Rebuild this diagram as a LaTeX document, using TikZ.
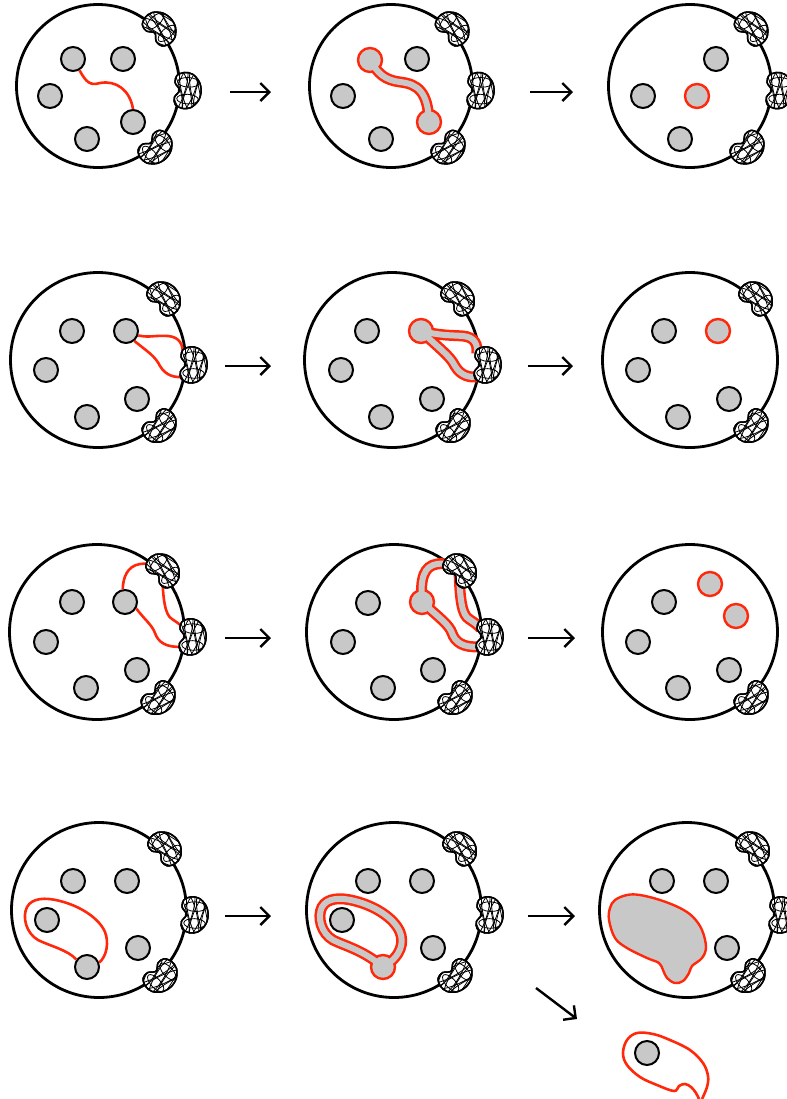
\documentclass[tikz,border=0pt]{standalone}
\usepackage{tikz}
\usetikzlibrary{arrows.meta}
\definecolor{discgray}{RGB}{200,200,200}
\definecolor{strandred}{RGB}{255,40,10}

\begin{document}
\begin{tikzpicture}[x=0.5pt,y=-0.5pt]
    \tikzstyle{board}=[draw,circle,line width=1.4pt,minimum size=87.5pt,inner sep=0pt]
    \tikzstyle{disc}=[draw,circle,fill=discgray,line width=1pt,minimum size=12pt,inner sep=0pt]
    \tikzstyle{hot}=[disc,draw=strandred,line width=1.2pt]
    \tikzstyle{strand}=[draw=strandred,line width=1.3pt]
    \tikzstyle{bandout}=[draw=strandred,line width=5.5pt]
    \tikzstyle{bandin}=[draw=discgray,line width=3pt]
    \tikzstyle{blob}=[fill=discgray,draw=strandred,line width=1.2pt]
    \tikzstyle{trans}=[draw,line width=1.2pt,-{Straight Barb[length=4.5pt,width=9pt]}]
    \tikzstyle{rim}=[draw,line width=0.75pt]
    \tikzstyle{knot}=[draw,line width=0.4pt]
    \tikzset{tangle/.pic={
        \begin{scope}[scale=1.2]
        \path[rim,fill=white] plot[smooth cycle,tension=0.55] coordinates {(-1,0) (-5,-6) (-4,-12) (2,-15) (9,-14) (15,-8)
            (17,0) (15,8) (9,14) (2,15) (-4,12) (-5,6)};
        \begin{scope}
            \clip plot[smooth cycle,tension=0.55] coordinates {(-1,0) (-5,-6) (-4,-12) (2,-15) (9,-14) (15,-8)
                (17,0) (15,8) (9,14) (2,15) (-4,12) (-5,6)};
            \foreach \k/\r in {-4/18,0/-14,4/16,8/-18,12/14,16/-12}
                \draw[knot,rotate around={\r:(\k,0)}] (\k,0) ellipse (3.5 and 17);
            \draw[knot] (6,-7) ellipse (9 and 4) (6,7) ellipse (9 and 4);
        \end{scope}
        \path[rim] plot[smooth cycle,tension=0.55] coordinates {(-1,0) (-5,-6) (-4,-12) (2,-15) (9,-14) (15,-8)
            (17,0) (15,8) (9,14) (2,15) (-4,12) (-5,6)};
        \end{scope}
    }}
    \useasboundingbox (0,0) rectangle (787,1099);

    % boards
    \node[board,minimum size=81.5pt] (c11) at (98,86) {};
    \node[board,minimum size=81.5pt] (c12) at (391,86) {};
    \node[board,minimum size=81.5pt] (c13) at (690,86) {};
    \node[board] (c21) at (98,360) {};
    \node[board] (c22) at (392,360) {};
    \node[board] (c23) at (690,360) {};
    \node[board] (c31) at (97,632) {};
    \node[board] (c32) at (394,632) {};
    \node[board] (c33) at (690,632) {};
    \node[board] (c41) at (99,910) {};
    \node[board] (c42) at (394,910) {};
    \node[board] (c43) at (687,910) {};

    % red strands, outer bands
    \draw[bandout] (370,60) .. controls (378,74) and (385,80) .. (400,82) .. controls (418,84) and (428,92) .. (429,122);
    \draw[bandout] (421,331) .. controls (443,336) and (450,335) .. (463,336) .. controls (475,337) and (478,345) .. ([shift={(-4,-11)}]c22.-3);
    \draw[bandout] (421,331) .. controls (441,350) and (450,356) .. (455,366) .. controls (461,376) and (470,378) .. ([shift={(-2,12)}]c22.-3);
    \draw[bandout] (422,602) .. controls (420,578) and (424,566) .. (437,564) .. controls (443,563) and (448,563) .. (c32.43);
    \draw[bandout] (c32.43) .. controls (460,600) and (462,615) .. (469,619) .. controls (475,623) and (479,626) .. ([shift={(-2,-8)}]c32.-3);
    \draw[bandout] (422,602) .. controls (442,620) and (449,625) .. (452,633) .. controls (455,642) and (463,648) .. ([shift={(-3,10)}]c32.-3);
    \draw[bandout] (383,967) .. controls (402,956) and (404,942) .. (400,932) .. controls (394,918) and (375,906) .. (355,901)
        .. controls (340,897) and (327,898) .. (322,907) .. controls (317,917) and (321,933) .. (333,940) .. controls (345,946) and (363,950) .. (383,967);

    % row 1
    \node[disc] (d11a) at (73,59) {};
    \node[disc] (d11b) at (123,59) {};
    \node[disc] (d11c) at (50,96) {};
    \node[disc] (d11d) at (133,122) {};
    \node[disc] (d11e) at (87,139) {};
    \draw[strand] (d11a.-60) .. controls (86,82) and (90,86) .. (100,83) .. controls (116,80) and (130,90) .. (d11d.90);
    \node[hot] (d12a) at (370,60) {};
    \node[disc] (d12b) at (417,59) {};
    \node[disc] (d12c) at (343,96) {};
    \node[hot] (d12d) at (429,122) {};
    \node[disc] (d12e) at (381,139) {};
    \draw[bandin] (d12a.center) .. controls (378,74) and (385,80) .. (400,82) .. controls (418,84) and (428,92) .. (d12d.center);
    \node[disc] (d13b) at (716,59) {};
    \node[disc] (d13c) at (643,96) {};
    \node[hot] (d13f) at (697,96) {};
    \node[disc] (d13e) at (680,139) {};

    % row 2
    \node[disc] (d21a) at (72,331) {};
    \node[disc] (d21b) at (126,331) {};
    \node[disc] (d21c) at (46,370) {};
    \node[disc] (d21d) at (137,399) {};
    \node[disc] (d21e) at (87,417) {};
    \draw[strand] (d21b.-20) .. controls (150,338) and (155,335) .. (168,336) .. controls (180,337) and (183,345) .. ([shift={(-4,-11)}]c21.-3);
    \draw[strand] (d21b.-50) .. controls (148,352) and (155,356) .. (160,366) .. controls (166,376) and (175,378) .. ([shift={(-2,12)}]c21.-3);
    \node[disc] (d22a) at (367,331) {};
    \node[hot] (d22b) at (421,331) {};
    \node[disc] (d22c) at (341,370) {};
    \node[disc] (d22d) at (432,399) {};
    \node[disc] (d22e) at (381,417) {};
    \draw[bandin] (d22b.center) .. controls (443,336) and (450,335) .. (463,336) .. controls (475,337) and (478,345) .. ([shift={(-4,-11)}]c22.-3);
    \draw[bandin] (d22b.center) .. controls (441,350) and (450,356) .. (455,366) .. controls (461,376) and (470,378) .. ([shift={(-2,12)}]c22.-3);
    \node[disc] (d23a) at (664,331) {};
    \node[hot] (d23b) at (718,331) {};
    \node[disc] (d23c) at (638,370) {};
    \node[disc] (d23d) at (729,399) {};
    \node[disc] (d23e) at (678,417) {};

    % row 3
    \node[disc] (d31a) at (72,602) {};
    \node[disc] (d31b) at (125,602) {};
    \node[disc] (d31c) at (46,642) {};
    \node[disc] (d31d) at (137,670) {};
    \node[disc] (d31e) at (86,688) {};
    \draw[strand] (d31b.100) .. controls (123,578) and (127,566) .. (140,564) .. controls (146,563) and (151,563) .. (c31.43);
    \draw[strand] (c31.43) .. controls (163,600) and (165,615) .. (172,619) .. controls (178,623) and (182,626) .. ([shift={(-2,-8)}]c31.-3);
    \draw[strand] (d31b.-30) .. controls (145,620) and (152,625) .. (155,633) .. controls (158,642) and (166,648) .. ([shift={(-3,10)}]c31.-3);
    \node[disc] (d32a) at (368,603) {};
    \node[hot] (d32b) at (422,602) {};
    \node[disc] (d32c) at (343,642) {};
    \node[disc] (d32d) at (433,670) {};
    \node[disc] (d32e) at (383,688) {};
    \draw[bandin] (d32b.center) .. controls (420,578) and (424,566) .. (437,564) .. controls (443,563) and (448,563) .. (c32.43);
    \draw[bandin] (c32.43) .. controls (460,600) and (462,615) .. (469,619) .. controls (475,623) and (479,626) .. ([shift={(-2,-8)}]c32.-3);
    \draw[bandin] (d32b.center) .. controls (442,620) and (449,625) .. (452,633) .. controls (455,642) and (463,648) .. ([shift={(-3,10)}]c32.-3);
    \node[disc] (d33a) at (664,602) {};
    \node[disc] (d33c) at (638,642) {};
    \node[disc] (d33d) at (729,670) {};
    \node[disc] (d33e) at (678,688) {};
    \node[hot] (d33f) at (710,584) {};
    \node[hot] (d33g) at (736,616) {};

    % row 4
    \node[disc] (d41a) at (73,881) {};
    \node[disc] (d41b) at (127,881) {};
    \node[disc] (d41c) at (47,920) {};
    \node[disc] (d41d) at (138,948) {};
    \node[disc] (d41e) at (87,967) {};
    \draw[strand] (d41e.20) .. controls (107,956) and (109,942) .. (105,932) .. controls (99,918) and (80,906) .. (60,901)
        .. controls (45,897) and (32,898) .. (27,907) .. controls (22,917) and (26,933) .. (38,940) .. controls (50,946) and (68,950) .. (d41e.145);
    \node[disc] (d42a) at (368,881) {};
    \node[disc] (d42b) at (422,881) {};
    \node[disc] (d42c) at (342,920) {};
    \node[disc] (d42d) at (433,948) {};
    \node[hot] (d42e) at (383,967) {};
    \draw[bandin] (d42e.center) .. controls (402,956) and (404,942) .. (400,932) .. controls (394,918) and (375,906) .. (355,901)
        .. controls (340,897) and (327,898) .. (322,907) .. controls (317,917) and (321,933) .. (333,940) .. controls (345,946) and (363,950) .. (d42e.center);
    \node[disc] (d43a) at (662,881) {};
    \node[disc] (d43b) at (716,881) {};
    \node[disc] (d43d) at (727,948) {};
    \path[blob] plot[smooth cycle,tension=0.6] coordinates {(609,920) (610,908) (615,900) (627,895) (640,895) (660,900) (680,908)
        (693,917) (702,930) (706,947) (702,958) (692,966) (689,973) (683,981) (675,983) (667,978) (663,970) (659,963)
        (647,958) (627,948) (615,938)};
    \draw[strand] plot[smooth,tension=0.6] coordinates {(702,1099) (707,1087) (708,1076) (703,1063) (690,1050) (670,1040)
        (653,1034) (637,1033) (627,1040) (623,1053) (627,1065) (640,1077) (657,1085) (674,1091) (679,1086) (685,1084)
        (691,1087) (696,1093) (699,1099)};
    \node[disc] (d44) at (647,1053) {};

    % tangles
    \foreach \c in {c11,c12,c13,c21,c22,c31,c32,c41,c42,c43} {
        \pic[rotate=43,xshift=-2pt] at (\c.43) {tangle};
        \pic[rotate=-3] at (\c.-3) {tangle};
        \pic[rotate=-47,xshift=-2pt] at (\c.-47) {tangle};
    }
    \pic[rotate=43,xshift=-2pt] at (c23.43) {tangle};
    \pic[rotate=-47,xshift=-2pt] at (c23.-47) {tangle};
    \pic[rotate=-47,xshift=-2pt] at (c33.-47) {tangle};

    % arrows
    \coordinate (r1a) at (230,92); \coordinate (r1b) at (271,92);
    \coordinate (r1c) at (530,92); \coordinate (r1d) at (573,92);
    \coordinate (r2a) at (225,366); \coordinate (r2b) at (271,366);
    \coordinate (r2c) at (528,366); \coordinate (r2d) at (573,366);
    \coordinate (r3a) at (225,638); \coordinate (r3b) at (271,638);
    \coordinate (r3c) at (528,638); \coordinate (r3d) at (575,638);
    \coordinate (r4a) at (225,916); \coordinate (r4b) at (271,916);
    \coordinate (r4c) at (528,916); \coordinate (r4d) at (575,916);
    \coordinate (r5a) at (536,988); \coordinate (r5b) at (577,1019);
    \draw[trans] (r1a) -- (r1b);
    \draw[trans] (r1c) -- (r1d);
    \draw[trans] (r2a) -- (r2b);
    \draw[trans] (r2c) -- (r2d);
    \draw[trans] (r3a) -- (r3b);
    \draw[trans] (r3c) -- (r3d);
    \draw[trans] (r4a) -- (r4b);
    \draw[trans] (r4c) -- (r4d);
    \draw[trans] (r5a) -- (r5b);
\end{tikzpicture}
\end{document}
